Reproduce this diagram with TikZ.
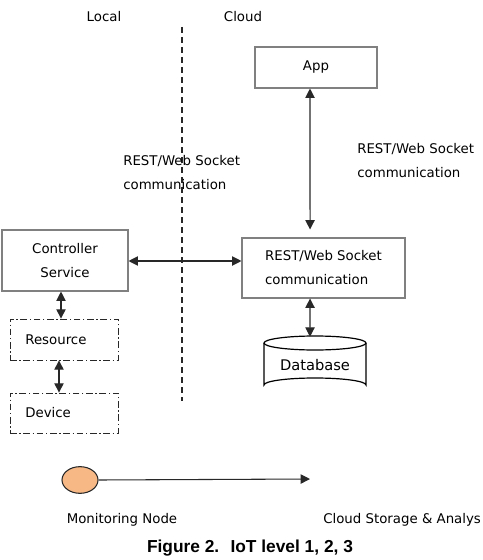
\documentclass[tikz,border=0pt]{standalone}
\usepackage{fontspec}
\setmainfont{DejaVu Sans}
\newfontfamily\capfont{Liberation Sans}
\usetikzlibrary{arrows.meta,shapes.geometric}
\definecolor{boxgray}{RGB}{128,128,128}
\definecolor{peach}{RGB}{247,184,134}
\definecolor{darkline}{RGB}{40,40,40}
\tikzset{
  txt/.style={font=\fontsize{10pt}{18pt}\selectfont, inner sep=0pt},
  solidbox/.style={draw=boxgray, line width=0.8pt, txt},
  dashbox/.style={draw=darkline, line width=0.6pt, dash pattern=on 5pt off 2pt on 1pt off 2pt, txt},
  biarrow/.style={{Triangle[length=7pt,width=7pt]}-{Triangle[length=7pt,width=7pt]}, line width=0.8pt, draw=darkline},
  onearrow/.style={-{Triangle[length=7pt,width=7pt]}, line width=0.8pt, draw=darkline},
}
\begin{document}
\begin{tikzpicture}[x=0.75pt,y=-0.75pt]
\useasboundingbox (0,0) rectangle (482,560);
% headings
\node[txt] (local) at (104,17) {Local};
\node[txt] (cloud) at (243,17) {Cloud};
% divider
\coordinate (d1) at (182,27);
\coordinate (d2) at (182,401);
\draw[darkline, line width=0.8pt, dash pattern=on 4.5pt off 3pt] (d1) -- (d2);
% boxes
\node[solidbox, minimum width=91.5pt, minimum height=30.75pt] (app) at (316,67.5) {App};
\node[solidbox, minimum width=122.25pt, minimum height=45pt, align=left] (rest) at (323.5,268) {REST/Web Socket\\communication};
\node[solidbox, minimum width=94.5pt, minimum height=45.75pt, align=center] (ctrl) at (65,260.5) {Controller\\Service};
\node[dashbox, minimum width=81pt, minimum height=30.75pt, text width=58pt, inner xsep=11.5pt, align=left] (res) at (64,339.5) {Resource};
\node[dashbox, minimum width=81pt, minimum height=30pt, text width=58pt, inner xsep=11.5pt, align=left] (dev) at (64,413) {Device};
% labels
\node[txt, anchor=west, align=left] (lbl1) at (123,172.5) {REST/Web Socket\\communication};
\node[txt, anchor=west, align=left] (lbl2) at (357,160.5) {REST/Web Socket\\communication};
% database cylinder
\node[txt, font=\fontsize{11pt}{13pt}\selectfont, minimum width=76.5pt, minimum height=42pt] (db) at (315,365) {Database};
\draw[black, line width=0.9pt]
  (264,343) -- (264,385) arc[start angle=180, end angle=360, x radius=51, y radius=7] -- (366,343);
\draw[black, line width=0.9pt] (315,343) ellipse[x radius=51, y radius=7];
% connectors
\draw[biarrow] ([xshift=-4.5pt]app.south) -- ([xshift=-10.1pt,yshift=6pt]rest.north);
\draw[biarrow] (ctrl.east |- 0,261) -- (rest.west |- 0,261);
\draw[biarrow] ([xshift=-3pt]ctrl.south) -- ([xshift=-2.25pt]res.north);
\draw[biarrow] ([xshift=-3.75pt]res.south) -- ([xshift=-3.75pt]dev.north);
\draw[biarrow] ([xshift=-10.1pt]rest.south) -- ([xshift=-3.75pt]db.north);
% monitoring node
\node[ellipse, draw=darkline, line width=0.8pt, fill=peach, minimum width=27pt, minimum height=20pt, inner sep=0pt] (mon) at (80,480) {};
\coordinate (cs) at (310,479);
\draw[onearrow] (mon.east) -- (cs);
\node[txt] (monl) at (122,520) {Monitoring Node};
\node[txt, anchor=west] (csl) at (323,520) {Cloud Storage \& Analys};
% caption
\node[inner sep=0pt, font=\capfont\bfseries\fontsize{13pt}{15pt}\selectfont] (cap) at (250,548) {Figure 2.~ IoT level 1, 2, 3};
\end{tikzpicture}
\end{document}
